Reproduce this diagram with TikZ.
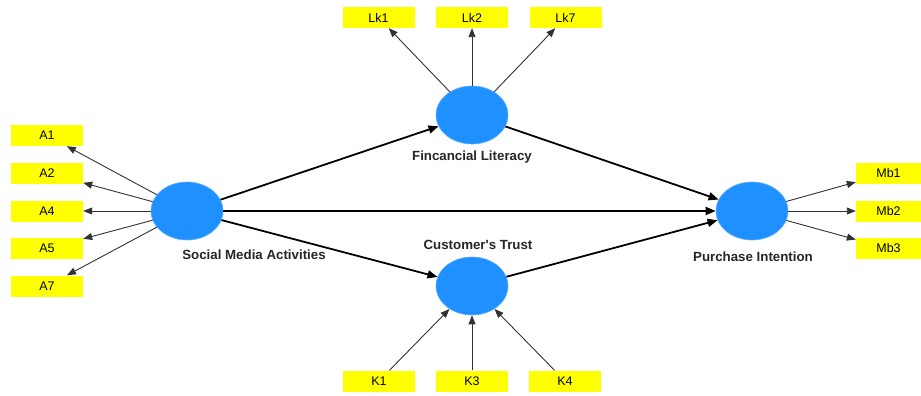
\documentclass[tikz,border=0pt]{standalone}
\usepackage{fontspec}
\setmainfont{Liberation Sans}
\usetikzlibrary{arrows.meta,shapes.geometric}
\definecolor{lvblue}{RGB}{30,144,255}
\definecolor{indyellow}{RGB}{255,255,0}
\definecolor{outergray}{RGB}{50,50,50}
\tikzset{
  latent/.style={ellipse,fill=lvblue,draw=lvblue!70!white,line width=0.6pt,minimum width=72pt,minimum height=58pt,inner sep=0pt},
  indbox/.style={rectangle,fill=indyellow,minimum width=72pt,minimum height=21pt,inner sep=0pt,font=\fontsize{12.5}{14}\selectfont},
  lvlabel/.style={font=\fontsize{13.3}{15}\selectfont\bfseries,text=black!85},
  outerarrow/.style={draw=outergray,line width=0.9pt,-{Triangle[length=9pt,width=7pt]}},
  innerarrow/.style={draw=black,line width=1.8pt,-{Triangle[length=10pt,width=8pt]}}
}
\begin{document}
\begin{tikzpicture}[x=1pt,y=-1pt]
\useasboundingbox (0,0) rectangle (921,396);
% latent variables
\node[latent] (sma) at (187,211) {};
\node[latent] (fl) at (472,115) {};
\node[latent] (ct) at (472,286) {};
\node[latent] (pi) at (752,211) {};
% labels
\node[lvlabel] (smal) at (254,255) {Social Media Activities};
\node[lvlabel] (fll) at (472,157) {Fincancial Literacy};
\node[lvlabel] (ctl) at (478,245) {Customer\textquotesingle s Trust};
\node[lvlabel] (pil) at (753,257) {Purchase Intention};
% indicators SMA
\node[indbox] (a1) at (47,135.5) {A1};
\node[indbox] (a2) at (47,173) {A2};
\node[indbox] (a4) at (47,211) {A4};
\node[indbox] (a5) at (47,248.5) {A5};
\node[indbox] (a7) at (47,286) {A7};
% indicators FL
\node[indbox] (lk1) at (378.5,17.5) {Lk1};
\node[indbox] (lk2) at (472,17.5) {Lk2};
\node[indbox] (lk7) at (565.5,17.5) {Lk7};
% indicators CT
\node[indbox] (k1) at (379,381) {K1};
\node[indbox] (k3) at (472,381) {K3};
\node[indbox] (k4) at (565,381) {K4};
% indicators PI
\node[indbox,minimum width=65pt] (mb1) at (888.5,173) {Mb1};
\node[indbox,minimum width=65pt] (mb2) at (888.5,211) {Mb2};
\node[indbox,minimum width=65pt] (mb3) at (888.5,248.5) {Mb3};
% outer arrows
\foreach \t in {a1,a2,a4,a5,a7} \draw[outerarrow] (sma) -- (\t);
\foreach \t in {lk1,lk2,lk7} \draw[outerarrow] (fl) -- (\t);
\foreach \s in {k1,k3,k4} \draw[outerarrow] (\s) -- (ct);
\foreach \t in {mb1,mb2,mb3} \draw[outerarrow] (pi) -- (\t);
% inner arrows
\draw[innerarrow] (sma) -- (fl);
\draw[innerarrow] (sma) -- (ct);
\draw[innerarrow] (sma) -- (pi);
\draw[innerarrow] (fl) -- (pi);
\draw[innerarrow] (ct) -- (pi);
\end{tikzpicture}
\end{document}
